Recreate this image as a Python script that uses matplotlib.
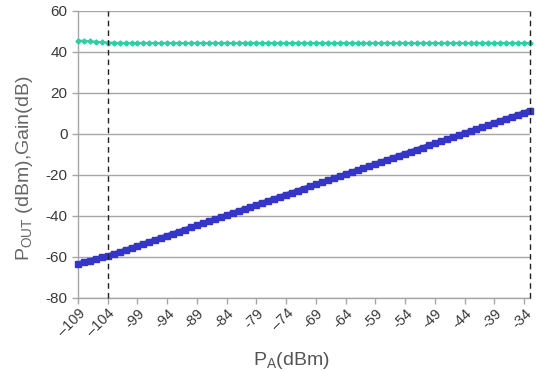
import matplotlib
matplotlib.use("Agg")
import matplotlib.pyplot as plt

pin = [-109, -108, -107, -106, -105, -104, -103, -102, -101, -100,
       -99, -98, -97, -96, -95, -94, -93, -92, -91, -90,
       -89, -88, -87, -86, -85, -84, -83, -82, -81, -80,
       -79, -78, -77, -76, -75, -74, -73, -72, -71, -70,
       -69, -68, -67, -66, -65, -64, -63, -62, -61, -60,
       -59, -58, -57, -56, -55, -54, -53, -52, -51, -50,
       -49, -48, -47, -46, -45, -44, -43, -42, -41, -40,
       -39, -38, -37, -36, -35, -34, -33]

pout = [-63.4, -62.6, -61.8, -61.0, -60.2, -59.4, -58.5,
        -57.6, -56.6, -55.6, -54.6, -53.6, -52.6, -51.6, -50.6, -49.6, -48.6,
        -47.6, -46.6, -45.6, -44.6, -43.6, -42.6, -41.6, -40.6, -39.6, -38.6,
        -37.6, -36.6, -35.6, -34.6, -33.6, -32.6, -31.6, -30.6, -29.6, -28.6,
        -27.6, -26.6, -25.6, -24.6, -23.6, -22.6, -21.6, -20.6, -19.6, -18.6,
        -17.6, -16.6, -15.6, -14.6, -13.6, -12.6, -11.6, -10.6, -9.6, -8.6,
        -7.6, -6.6, -5.6, -4.6, -3.6, -2.6, -1.6, -0.6, 0.4, 1.4,
        2.4, 3.4, 4.4, 5.4, 6.4, 7.4, 8.4, 9.4, 10.4, 11.4]

gain = [45.6, 45.4, 45.2, 45.0, 44.8, 44.6, 44.5,
        44.4, 44.4, 44.4, 44.4, 44.4, 44.4, 44.4, 44.4, 44.4, 44.4,
        44.4, 44.4, 44.4, 44.4, 44.4, 44.4, 44.4, 44.4, 44.4, 44.4,
        44.4, 44.4, 44.4, 44.4, 44.4, 44.4, 44.4, 44.4, 44.4, 44.4,
        44.4, 44.4, 44.4, 44.4, 44.4, 44.4, 44.4, 44.4, 44.4, 44.4,
        44.4, 44.4, 44.4, 44.4, 44.4, 44.4, 44.4, 44.4, 44.4, 44.4,
        44.4, 44.4, 44.4, 44.4, 44.4, 44.4, 44.4, 44.4, 44.4, 44.4,
        44.4, 44.4, 44.4, 44.4, 44.4, 44.4, 44.4, 44.4, 44.4, 44.4]

xticks = [-109, -104, -99, -94, -89, -84, -79, -74, -69, -64, -59, -54, -49, -44, -39, -34]
xtick_labels = ["\u2013109", "\u2013104", "-99", "-94", "-89", "-84", "-79", "\u201374",
                "-69", "-64", "-59", "-54", "-49", "-44", "-39", "-34"]
yticks = [-80, -60, -40, -20, 0, 20, 40, 60]
ytick_labels = ["-80", "-60", "-40", "-20", "0", "20", "40", "60"]
vlines = [-104, -33]

plt.rcParams['font.family'] = ['Liberation Sans', 'DejaVu Sans']

fig = plt.figure(figsize=(5.39, 3.71), dpi=100)
ax = fig.add_axes([0.1447, 0.1968, 0.9833 - 0.1447, 0.9704 - 0.1968])

grid_c = "#a6a6a6"
for y in yticks:
    ax.axhline(y, color=grid_c, lw=1.0, zorder=1)

for v in vlines:
    ax.axvline(v, color="#222222", lw=1.0, ls=(0, (4, 3)), zorder=5, clip_on=False)

ax.plot(pin, gain, color="#2fcfa5", lw=1.5, marker="D", ms=2.6, zorder=4, clip_on=False)
ax.plot(pin, pout, color="#3535c8", lw=3.5, marker="s", ms=4.0, zorder=4, clip_on=False)

ax.set_xlim(-109, -33)
ax.set_ylim(-80, 60)

ax.set_yticks(yticks)
ax.set_yticklabels(ytick_labels)
ax.set_xticks(xticks)
ax.set_xticklabels(xtick_labels, rotation=45, ha="right", rotation_mode="anchor")

for s in ["top", "right"]:
    ax.spines[s].set_visible(False)
for s in ["left", "bottom"]:
    ax.spines[s].set_color(grid_c)
    ax.spines[s].set_linewidth(1.0)

ax.tick_params(axis="both", colors=grid_c, labelcolor="#3a3a3a", labelsize=11, length=4, width=1.0, direction="out")
ax.tick_params(axis="x", pad=2, labelsize=10.5)

ax.set_ylabel("P$_\\mathregular{OUT}$ (dBm),Gain(dB)", fontsize=14, color="#666666")
ax.yaxis.set_label_coords(-0.096, 0.45)
ax.set_xlabel("P$_\\mathregular{A}$(dBm)", fontsize=14, color="#555555")
ax.xaxis.set_label_coords(0.473, -0.18)

fig.savefig("out.png", dpi=100)
